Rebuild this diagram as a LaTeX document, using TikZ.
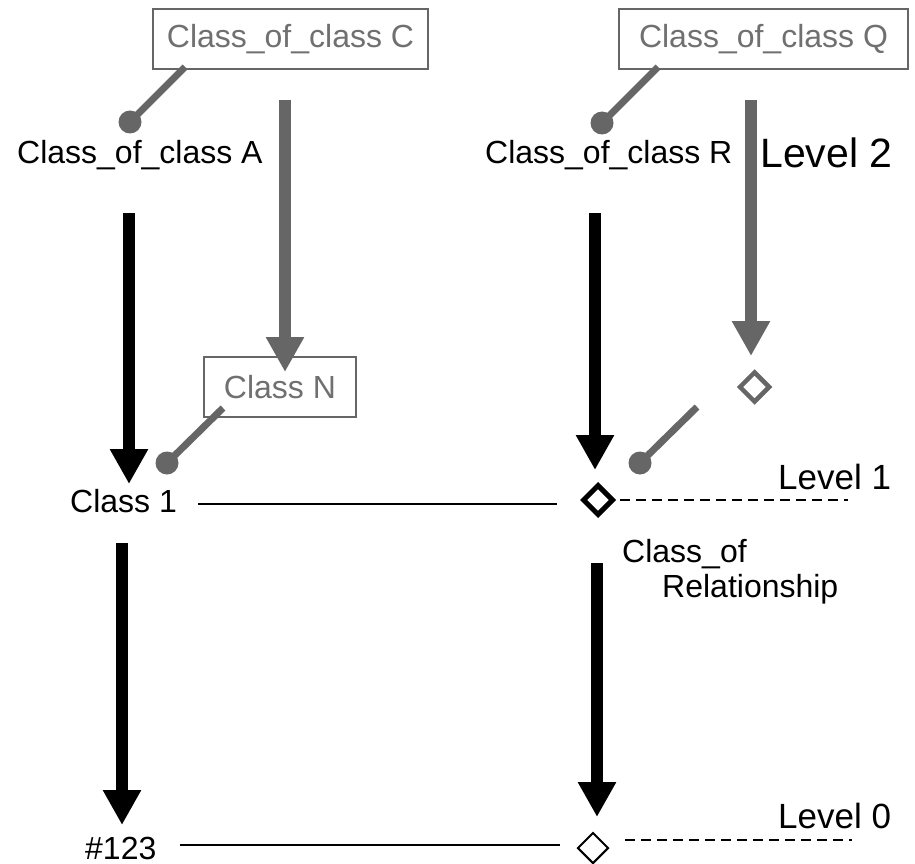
\documentclass[tikz,border=0pt]{standalone}
\usepackage{fontspec}
\setmainfont{Liberation Sans}
\usetikzlibrary{arrows.meta,shapes.geometric}
\definecolor{linkgray}{RGB}{102,102,102}
\definecolor{labelgray}{RGB}{112,112,112}

\begin{document}
\begin{tikzpicture}[x=1pt,y=-1pt,
  lbl/.style={anchor=base west, inner sep=0pt, font=\fontsize{32}{35}\selectfont},
  lvl/.style={anchor=base west, inner sep=0pt, font=\fontsize{35}{40}\selectfont},
  graybox/.style={draw=linkgray, line width=1.5pt, text=labelgray, minimum height=60pt,
    inner sep=0pt, font=\fontsize{32}{35}\selectfont},
  bigarrow/.style={line width=12pt, -{Triangle[width=36pt,length=35pt]}},
  instarrow/.style={bigarrow, draw=black},
  grayarrow/.style={bigarrow, draw=linkgray},
  pin/.style={circle, fill=linkgray, minimum size=23pt, inner sep=0pt},
  link/.style={draw=linkgray, line width=7pt},
  rel/.style={diamond, draw, inner sep=0pt, minimum width=31pt, minimum height=31pt, fill=white},
  levelline/.style={line width=2pt, dash pattern=on 10pt off 6pt},
  tie/.style={line width=2.5pt}
]
\useasboundingbox (0,0) rectangle (915,864);

% level 2 classes of classes
\node[graybox, minimum width=275pt] (ccC) at (290.5,39) {Class\_of\_class C};
\node[graybox, minimum width=289pt] (ccQ) at (763.5,39) {Class\_of\_class Q};
\node[lbl] (ccA) at (17,163) {Class\_of\_class A};
\node[lbl] (ccR) at (485,163) {Class\_of\_class R};
\node[lbl, font=\fontsize{41}{45}\selectfont] (lv2) at (760,167) {Level 2};

% level 1
\node[graybox, minimum width=152pt] (clN) at (280,387) {Class N};
\node[lbl] (cl1) at (70,512) {Class 1};
\node[lvl] (lv1) at (778,489) {Level 1};
\node[rel, line width=5pt] (rel1) at (598,500) {};
\node[rel, draw=linkgray, line width=4.5pt] (relQ) at (754.5,387) {};
\node[lbl] (relnameA) at (622,562) {Class\_of};
\node[lbl] (relnameB) at (662,597) {Relationship};

% level 0
\node[lbl] (inst) at (85,859) {\#123};
\node[lvl] (lv0) at (778,828) {Level 0};
\node[rel, line width=2pt] (rel0) at (593,848) {};

% classification pins
\node[pin] (pA) at (130,122) {};
\node[pin] (pR) at (602,123) {};
\node[pin] (p1) at (167,463) {};
\node[pin] (pRel) at (640,463) {};
\coordinate (sC) at (185,67);
\coordinate (sQ) at (658,67);
\coordinate (sN) at (223,408);
\coordinate (sRel) at (697,407);
\draw[link] (sC) -- (pA.center);
\draw[link] (sQ) -- (pR.center);
\draw[link] (sN) -- (p1.center);
\draw[link] (sRel) -- (pRel.center);

% gray instance arrows
\coordinate (gC0) at (285,100);
\coordinate (gC1) at (285,372);
\coordinate (gQ0) at (751,100);
\coordinate (gQ1) at (751,356);
\draw[grayarrow] (gC0) -- (gC1);
\draw[grayarrow] (gQ0) -- (gQ1);

% black instance arrows
\coordinate (bA0) at (129,213);
\coordinate (bA1) at (129,484);
\coordinate (bR0) at (595,213);
\coordinate (bR1) at (595,470);
\coordinate (b10) at (122,543);
\coordinate (b11) at (122,825);
\coordinate (bL0) at (597,563);
\coordinate (bL1) at (597,817);
\draw[instarrow] (bA0) -- (bA1);
\draw[instarrow] (bR0) -- (bR1);
\draw[instarrow] (b10) -- (b11);
\draw[instarrow] (bL0) -- (bL1);

% relationship ties and level lines
\coordinate (t1a) at (198,504);
\coordinate (t1b) at (557,504);
\coordinate (t0a) at (180,845);
\coordinate (t0b) at (560,845);
\draw[tie] (t1a) -- (t1b);
\draw[tie] (t0a) -- (t0b);
\coordinate (d1a) at (620,500);
\coordinate (d1b) at (848,500);
\coordinate (d0a) at (625,840);
\coordinate (d0b) at (852,840);
\draw[levelline] (d1a) -- (d1b);
\draw[levelline] (d0a) -- (d0b);
\end{tikzpicture}
\end{document}
